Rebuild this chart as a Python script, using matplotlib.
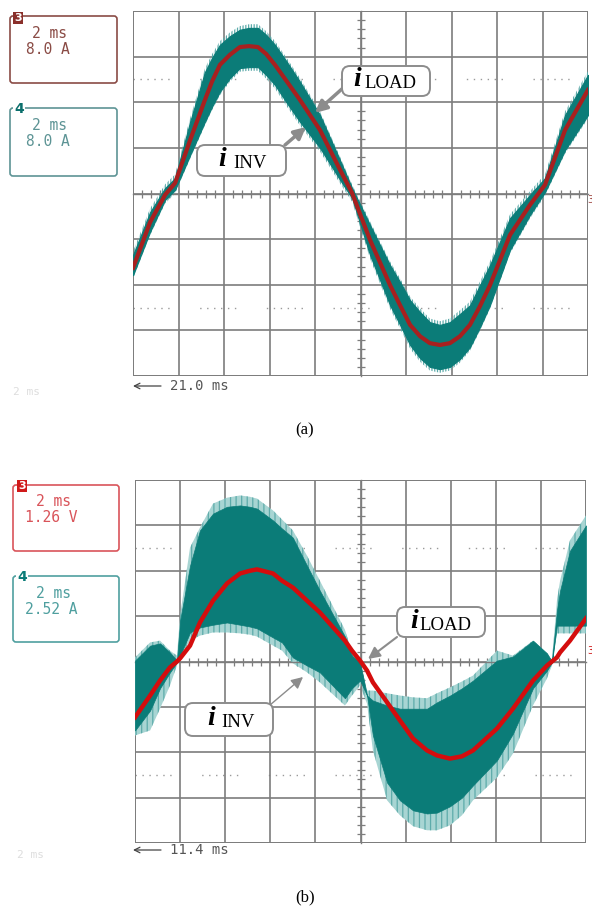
import matplotlib
matplotlib.use("Agg")
from matplotlib import pyplot as plt
from matplotlib.patches import FancyBboxPatch, Rectangle
from matplotlib.ticker import MultipleLocator, NullFormatter

# panel (a): time in ms, traces in divisions
t_a = [0, 0.75, 1.41, 1.85, 2.51, 3.16, 3.47, 3.82, 4.26, 4.70, 5.10, 5.49, 5.85, 6.24, 6.77, 7.34, 8.22, 9.10,
       9.63, 10.42, 11.30, 11.74, 12.18, 12.62, 13.05, 13.49, 13.93, 14.37, 14.81, 15.25, 15.69, 16.57, 17.45,
       18.11, 18.99, 20]
load_a = [-1.63, -0.63, -0.03, 0.23, 1.17, 2.05, 2.45, 2.82, 3.04, 3.21, 3.23, 3.21, 3.06, 2.82, 2.45, 2.05, 1.39, 0.52,
          0.01, -1.02, -2.01, -2.45, -2.88, -3.13, -3.28, -3.32, -3.28, -3.13, -2.88, -2.47, -2.01, -0.91, -0.25,
          0.19, 1.39, 2.27]
inv_hi_a = [-1.35, -0.41, 0.12, 0.34, 1.57, 2.66, 2.97, 3.26, 3.45, 3.59, 3.63, 3.63, 3.48, 3.26, 2.88, 2.45, 1.72, 0.73,
            0.12, -0.69, -1.57, -1.94, -2.34, -2.60, -2.82, -2.88, -2.82, -2.64, -2.45, -2.01, -1.57, -0.54, -0.03,
            0.34, 1.72, 2.60]
inv_lo_a = [-1.79, -0.84, -0.14, 0.08, 0.84, 1.57, 1.90, 2.23, 2.53, 2.75, 2.77, 2.77, 2.60, 2.38, 1.98, 1.57, 1.0, 0.30,
            -0.10, -1.35, -2.45, -2.88, -3.32, -3.61, -3.80, -3.85, -3.80, -3.63, -3.37, -2.93, -2.45, -1.24, -0.47,
            0.03, 0.95, 1.72]

# panel (b)
t_b = [0, 0.67, 1.11, 1.55, 1.86, 2.0, 2.44, 2.88, 3.46, 4.08, 4.66, 5.10, 5.41, 6.12, 6.52, 7.0, 7.63, 8.2,
       9.31, 9.62, 9.98, 10.29, 10.55, 11.18, 11.75, 12.33, 12.95, 13.39, 13.97, 14.50, 14.99, 16.05, 16.76, 17.65,
       18.27, 18.49, 18.71, 18.85, 19.29, 20]
load_b = [-1.23, -0.75, -0.42, -0.13, 0, 0.07, 0.35, 0.86, 1.34, 1.72, 1.94, 2.0, 2.03, 1.94, 1.78, 1.63, 1.34, 1.08,
          0.46, 0.24, 0.02, -0.2, -0.46, -0.90, -1.30, -1.70, -1.96, -2.07, -2.14, -2.09, -1.96, -1.48, -1.04, -0.42,
          -0.09, 0, 0.09, 0.2, 0.46, 0.95]
comb_hi_b = [0.09, 0.42, 0.46, 0.24, 0.13, 1.01, 2.51, 2.95, 3.48, 3.61, 3.66, 3.63, 3.59, 3.33, 3.13, 2.89, 2.33, 1.78,
             0.70, 0.20, 0.02, -0.64, -0.64, -0.70, -0.75, -0.79, -0.81, -0.70, -0.57, -0.44, -0.31, 0.24, 0.13, 0.46,
             0.18, 0.02, 1.34, 1.78, 2.67, 3.22]
band_hi_b = [0.02, 0.35, 0.40, 0.20, 0.02, 0.90, 2.11, 2.89, 3.26, 3.41, 3.44, 3.41, 3.37, 3.11, 2.93, 2.73, 2.11, 1.56,
             0.55, 0.13, -0.02, -0.75, -0.86, -0.97, -1.04, -1.04, -1.04, -0.90, -0.75, -0.59, -0.42, 0.02, 0.11, 0.46,
             0.18, 0, 1.12, 1.56, 2.44, 3.0]
band_lo_b = [-1.52, -1.08, -0.59, -0.24, -0.02, 0.13, 0.64, 0.75, 0.81, 0.86, 0.81, 0.77, 0.73, 0.53, 0.42, 0.09, -0.09, -0.24,
             -0.81, -0.59, -0.42, -0.75, -1.63, -2.67, -3.06, -3.28, -3.35, -3.33, -3.19, -3.0, -2.73, -2.18, -1.59, -0.59,
             -0.2, -0.02, 0.79, 0.79, 0.79, 0.79]
comb_lo_b = [-1.63, -1.52, -1.04, -0.53, -0.09, 0.09, 0.46, 0.57, 0.64, 0.64, 0.62, 0.59, 0.55, 0.35, 0.24, -0.04, -0.24, -0.46,
             -0.97, -0.75, -0.53, -0.93, -1.96, -3.06, -3.39, -3.63, -3.72, -3.72, -3.61, -3.39, -3.06, -2.56, -2.03, -0.97,
             -0.37, -0.09, 0.62, 0.62, 0.62, 0.62]

W, H = 592, 911
GRID = "#7d7d7d"
TEAL = "#0b7c78"
COMB = "#5dabaa"
plt.rcParams["hatch.linewidth"] = 0.9

fig = plt.figure(figsize=(W / 100, H / 100), dpi=100, facecolor="white")


def scope_axes(x0, y0, x1, y1):
    ax = fig.add_axes([x0 / W, 1 - y1 / H, (x1 - x0) / W, (y1 - y0) / H])
    ax.set_xlim(0, 20)
    ax.set_ylim(-4, 4)
    ax.xaxis.set_major_locator(MultipleLocator(2))
    ax.yaxis.set_major_locator(MultipleLocator(1))
    ax.xaxis.set_minor_locator(MultipleLocator(0.4))
    ax.yaxis.set_minor_locator(MultipleLocator(0.2))
    ax.xaxis.set_major_formatter(NullFormatter())
    ax.yaxis.set_major_formatter(NullFormatter())
    ax.grid(True, which="major", color=GRID, lw=1.2)
    ax.set_axisbelow(True)
    ax.spines["left"].set_position(("data", 10))
    ax.spines["bottom"].set_position(("data", 0))
    ax.spines["top"].set_visible(False)
    ax.spines["right"].set_visible(False)
    for s in ("left", "bottom"):
        ax.spines[s].set_color(GRID)
        ax.spines[s].set_linewidth(1.0)
    ax.tick_params(which="major", length=0)
    ax.tick_params(which="minor", direction="inout", length=6, width=0.9, color=GRID)
    ax.add_patch(Rectangle((0, 0), 1, 1, transform=ax.transAxes, fill=False, ec=GRID, lw=1.4, zorder=1))
    for level in (2.5, -2.5):
        ax.axhline(level, color="#9a9a9a", lw=1.0, zorder=0.5,
                   ls=(0, (1, 4, 1, 4, 1, 4, 1, 4, 1, 4, 1, 22)))
    return ax


# panel (a)
ax_a = scope_axes(133, 11, 588, 376)
fuzz_hi_a = [v + 0.08 for v in inv_hi_a]
fuzz_lo_a = [v - 0.08 for v in inv_lo_a]
ax_a.fill_between(t_a, fuzz_lo_a, fuzz_hi_a, facecolor="none", edgecolor=COMB, hatch="||||||", lw=0, zorder=2)
ax_a.fill_between(t_a, inv_lo_a, inv_hi_a, color=TEAL, lw=0.8, zorder=3)
ax_a.plot(t_a, load_a, color="#a8201f", lw=3, zorder=4)

# panel (b)
ax_b = scope_axes(135, 480, 586, 843)
ax_b.fill_between(t_b, comb_lo_b, comb_hi_b, facecolor="#a8d5d3", edgecolor=COMB, hatch="|||", lw=0, zorder=2)
ax_b.fill_between(t_b, band_lo_b, band_hi_b, color=TEAL, lw=0.5, zorder=3)
ax_b.plot(t_b, load_b, color="#d40d0d", lw=3.2, zorder=4)

# overlay in picture pixels for the scope read-outs and callouts
ov = fig.add_axes([0, 0, 1, 1], facecolor="none")
ov.set_xlim(0, W)
ov.set_ylim(H, 0)
ov.axis("off")


def readout(x0, y0, x1, y1, color, line1, line2):
    ov.add_patch(FancyBboxPatch((x0 + 2, y0 + 2), x1 - x0 - 4, y1 - y0 - 4,
                                boxstyle="round,pad=2,rounding_size=3", fc="white", ec=color, lw=1.2))
    ov.text(x0 + 40, y0 + 17, line1, color=color, family="DejaVu Sans Mono", fontsize=10.5, ha="center", va="center")
    ov.text(x0 + 38, y0 + 33, line2, color=color, family="DejaVu Sans Mono", fontsize=10.5, ha="center", va="center")


readout(10, 16, 117, 83, "#8a4b45", "2 ms", "8.0 A")
readout(10, 108, 117, 176, "#5d9495", "2 ms", "8.0 A")
readout(13, 485, 119, 551, "#d9545a", "2 ms", "1.26 V")
readout(13, 576, 119, 642, "#4f9f9f", "2 ms", "2.52 A")

ov.text(18, 18, "3", color="white", fontsize=8, fontweight="bold", ha="center", va="center",
        bbox=dict(boxstyle="square,pad=0.1", fc="#8a2f2a", ec="none"))
ov.text(19, 109, "4", color="#0b6f6c", fontsize=10, fontweight="bold", ha="center", va="center",
        bbox=dict(boxstyle="square,pad=0.05", fc="white", ec="none"))
ov.text(22, 486, "3", color="white", fontsize=8, fontweight="bold", ha="center", va="center",
        bbox=dict(boxstyle="square,pad=0.1", fc="#d01a1a", ec="none"))
ov.text(22, 577, "4", color="#0b7c78", fontsize=10, fontweight="bold", ha="center", va="center",
        bbox=dict(boxstyle="square,pad=0.05", fc="white", ec="none"))


def callout(x0, y0, x1, y1, sub, start, tip, lw, ix, sx):
    ov.annotate("", xy=tip, xytext=start, zorder=5,
                arrowprops=dict(arrowstyle="-|>,head_length=0.7,head_width=0.35", color="#8c8c8c", lw=lw,
                                shrinkA=0, shrinkB=0))
    ov.add_patch(FancyBboxPatch((x0 + 5, y0 + 5), x1 - x0 - 10, y1 - y0 - 10,
                                boxstyle="round,pad=5,rounding_size=8", fc="white", ec="#8c8c8c", lw=1.4, zorder=6))
    ov.text(x0 + ix, (y0 + y1) / 2 - 1, "i", family="Liberation Serif", fontsize=20, fontweight="bold",
            style="italic", ha="left", va="center", zorder=7)
    ov.text(x0 + sx, (y0 + y1) / 2 + 3, sub, family="Liberation Serif", fontsize=13.5, ha="left", va="center", zorder=7)


callout(342, 66, 430, 96, "LOAD", (343, 88), (315, 113), 2.5, 11, 22)
callout(197, 145, 286, 176, "INV", (285, 145), (306, 127), 2.5, 21, 36)
callout(397, 607, 485, 637, "LOAD", (397, 637), (368, 659), 1.5, 13, 22)
callout(185, 703, 273, 736, "INV", (270, 705), (303, 677), 1.0, 22, 36)

# cursor read-outs
for y, label in ((386, "21.0 ms"), (850, "11.4 ms")):
    ov.annotate("", xy=(133, y), xytext=(161, y), arrowprops=dict(arrowstyle="->", color="#444444", lw=0.9,
                                                                  shrinkA=0, shrinkB=0))
    ov.text(170, y, label, family="DejaVu Sans Mono", fontsize=10, color="#555555", ha="left", va="center")

ov.text(13, 392, "2 ms", family="DejaVu Sans Mono", fontsize=8, color="#dddddd", va="center")
ov.text(17, 855, "2 ms", family="DejaVu Sans Mono", fontsize=8, color="#dddddd", va="center")

# channel markers on the right edge
ov.text(590, 200, "3", color="#a04a45", fontsize=7, ha="center", va="center")
ov.text(590, 651, "3", color="#d01a1a", fontsize=7, ha="center", va="center")

ov.text(305, 430, "(a)", family="Liberation Serif", fontsize=12, ha="center", va="center")
ov.text(305, 897, "(b)", family="Liberation Serif", fontsize=12, ha="center", va="center")

plt.savefig("out.png", dpi=100)
